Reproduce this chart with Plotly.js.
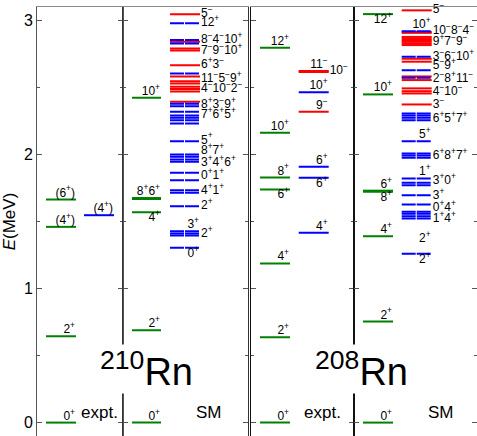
<!DOCTYPE html>
<html><head><meta charset="utf-8">
<script src="https://cdn.plot.ly/plotly-3.0.1.min.js"></script>
<style>html,body{margin:0;padding:0;background:#fff;overflow:hidden}</style>
</head><body><div id="chart" style="width:477px;height:436px"></div>
<script>
// ===== DATA (energies in MeV) =====
// 210Rn experiment
const rn210ExptE = [0, 0.644, 1.460, 1.664];
const rn210ExptLab = ['0+', '2+', '(4+)', '(6+)'];
const rn210Expt2E = [1.547];
const rn210Expt2Lab = ['(4+)'];
// 210Rn shell model, yrast (green)
const rn210SmYE = [0, 0.689, 1.569, 1.668, 1.676, 2.423];
const rn210SmYLab = ['0+', '2+', '4+', '8+6+', '10+'];
const rn210SmYLabE = [0, 0.689, 1.569, 1.676, 2.423];
// 210Rn shell model, positive parity (blue) and negative parity (red)
const rn210SmPosE = [2.978, 2.854, 2.828, 2.604, 2.378, 2.360, 2.319, 2.291, 2.274, 2.256, 2.231,
  2.099, 2.000, 1.983, 1.963, 1.946, 1.863, 1.808, 1.734, 1.714, 1.614, 1.428, 1.410, 1.396, 1.304];
const rn210SmNegE = [3.045, 2.840, 2.791, 2.776, 2.666, 2.582, 2.547, 2.530, 2.505, 2.489, 2.470, 2.393];
const rn210SmLab = ['5−', '12+', '8−4−10+', '7−9−10+', '6+3−', '11−5−9+', '4−10−2−', '8+3−9+', '7+6+5+',
  '5+', '8+7+', '3+4+6+', '0+1+', '4+1+', '2+', '3+', '2+', '0+'];
const rn210SmLabE = [3.045, 2.978, 2.853, 2.772, 2.670, 2.560, 2.490, 2.366, 2.291,
  2.104, 2.025, 1.938, 1.838, 1.726, 1.614, 1.428, 1.408, 1.304];

// 208Rn experiment
const rn208ExptE = [0, 0.637, 1.187, 1.739, 1.828, 2.162, 2.796];
const rn208ExptLab = ['0+', '2+', '4+', '6+', '8+', '10+', '12+'];
const rn208Expt2PosE = [1.416, 1.826, 1.908, 2.465];
const rn208Expt2NegE = [2.318, 2.622, 2.616];
const rn208Expt2Lab = ['4+', '6+', '6+', '9−', '10+', '11−', '10−'];
const rn208Expt2LabE = [1.416, 1.826, 1.908, 2.318, 2.465, 2.622, 2.622];
// 208Rn shell model
const rn208SmYE = [0, 0.754, 1.390, 1.722, 1.730, 2.448, 3.047];
const rn208SmYLab = ['0+', '2+', '4+', '6+', '8+', '10+', '12+'];
const rn208SmYLabE = [0, 0.754, 1.390, 1.730, 1.722, 2.448, 3.047];
const rn208SmPosE = [2.920, 2.729, 2.629, 2.572, 2.306, 2.291, 2.274, 2.256, 2.099, 2.007, 1.993, 1.975,
  1.821, 1.789, 1.771, 1.696, 1.627, 1.572, 1.557, 1.540, 1.522, 1.259];
const rn208SmNegE = [3.075, 2.914, 2.907, 2.877, 2.866, 2.854, 2.841, 2.829, 2.816, 2.714, 2.692,
  2.582, 2.555, 2.493, 2.472, 2.455, 2.373];
const rn208SmLab = ['5−', '10+', '10−8−4−', '9+7−9−', '3−6−10+', '5−9+', '2−8+11−', '4−10−', '3−', '6+5+7+',
  '5+', '6+8+7+', '1+', '3+0+', '3+', '0+4+', '1+4+', '2+', '2+'];
const rn208SmLabE = [3.075, 2.920, 2.920, 2.836, 2.724, 2.657, 2.560, 2.463, 2.366, 2.266,
  2.099, 1.987, 1.821, 1.801, 1.689, 1.602, 1.515, 1.325, 1.259];

const yTicks = [0, 1, 2, 3];
const yTickText = ['0', '1', '2', '3'];

// ===== STYLE / LAYOUT (x positions in per-subplot pixel units) =====
const GREEN = '#008000', BLUE = '#0000ff', RED = '#ff0000';
const col = {
  a_expt: [9, 39], a_expt2: [47, 77], a_smY: [9, 38], a_sm: [47, 77],
  b_expt: [8.7, 38.7], b_expt2: [47.4, 77.4], b_smY: [9, 39], b_sm: [47.7, 77.7]
};
const place = {
  a_expt: ['TL', 'TL', 'TL', 'TL'],
  a_expt2: ['TL'],
  a_smY: ['TL', 'TL', 'BL', 'TL', 'TL'],
  a_sm: ['R','R','R','R','R','R','R','R','R','R','R','R','R','R','R','TL','R','BL'],
  b_expt: ['TL','TL','TL','BL','TL','TL','TL'],
  b_expt2: ['TL','BL','TL','TL','TL','TL','R'],
  b_smY: ['TL','TL','TL','TL','BL','TL','BL'],
  b_sm: ['R','TL','R','R','R','R','R','R','R','R','TL','R','TL','R','R','R','R','TL','BL']
};

function sup(s) { return s.replace(/([+−])/g, '<sup>$1</sup>'); }

function levels(E, span, color, xa, ya, dash) {
  const x = [], y = [];
  E.forEach(e => { x.push(span[0], span[1], null); y.push(e, e, null); });
  return {type: 'scatter', mode: 'lines', x, y, xaxis: xa, yaxis: ya,
    line: {color, width: 2, dash: dash || 'solid'}, hoverinfo: 'skip', showlegend: false};
}
function labels(texts, E, places, span, xa, ya) {
  const x = [], pos = [];
  places.forEach(p => {
    if (p === 'R') { x.push(span[1] + 1); pos.push('middle right'); }
    else if (p === 'TL') { x.push(span[1] - 1); pos.push('top left'); }
    else { x.push(span[1] - 1); pos.push('bottom left'); }
  });
  return {type: 'scatter', mode: 'text', x, y: E, text: texts.map(sup), textposition: pos,
    xaxis: xa, yaxis: ya, cliponaxis: false, hoverinfo: 'skip', showlegend: false,
    textfont: {family: 'Arial, Liberation Sans, sans-serif', size: 12, color: '#000'}};
}

const BLUEDASH = '14px,1px';
const data = [
  levels(rn210ExptE, col.a_expt, GREEN, 'x', 'y'),
  levels(rn210Expt2E, col.a_expt2, BLUE, 'x', 'y'),
  labels(rn210ExptLab, rn210ExptE, place.a_expt, col.a_expt, 'x', 'y'),
  labels(rn210Expt2Lab, rn210Expt2E, place.a_expt2, col.a_expt2, 'x', 'y'),

  levels(rn210SmYE, col.a_smY, GREEN, 'x2', 'y2'),
  levels(rn210SmNegE, col.a_sm, RED, 'x2', 'y2'),
  levels(rn210SmPosE, col.a_sm, BLUE, 'x2', 'y2', BLUEDASH),
  labels(rn210SmYLab, rn210SmYLabE, place.a_smY, col.a_smY, 'x2', 'y2'),
  labels(rn210SmLab, rn210SmLabE, place.a_sm, col.a_sm, 'x2', 'y2'),

  levels(rn208ExptE, col.b_expt, GREEN, 'x3', 'y3'),
  levels(rn208Expt2NegE, col.b_expt2, RED, 'x3', 'y3'),
  levels(rn208Expt2PosE, col.b_expt2, BLUE, 'x3', 'y3'),
  labels(rn208ExptLab, rn208ExptE, place.b_expt, col.b_expt, 'x3', 'y3'),
  labels(rn208Expt2Lab, rn208Expt2LabE, place.b_expt2, col.b_expt2, 'x3', 'y3'),

  levels(rn208SmYE, col.b_smY, GREEN, 'x4', 'y4'),
  levels(rn208SmNegE, col.b_sm, RED, 'x4', 'y4'),
  levels(rn208SmPosE, col.b_sm, BLUE, 'x4', 'y4', BLUEDASH),
  labels(rn208SmYLab, rn208SmYLabE, place.b_smY, col.b_smY, 'x4', 'y4'),
  labels(rn208SmLab, rn208SmLabE, place.b_sm, col.b_sm, 'x4', 'y4')
];

const YR = [-0.1, 3.1];
const FONT = 'Arial, Liberation Sans, sans-serif';
const L = 37, W = 477, PW = W - L;
// subplot pixel edges (relative to plot-area left)
const edges = [[0, 86], [86, 210.5], [214.3, 317], [317, PW]];

function xAx(i) {
  const e = edges[i];
  return {domain: [e[0] / PW, e[1] / PW], range: [0, e[1] - e[0]], anchor: 'y' + (i ? i + 1 : ''),
    side: 'top', showline: true, linecolor: '#888', linewidth: 1, ticks: '', showticklabels: false,
    showgrid: false, zeroline: false, fixedrange: true};
}
function yAx(i, lineColor, extra) {
  return Object.assign({range: YR, anchor: 'x' + (i ? i + 1 : ''), tickmode: 'array', tickvals: yTicks,
    ticktext: yTickText, showgrid: false, zeroline: false, showticklabels: false,
    ticks: 'inside', ticklen: 5, tickcolor: '#555', showline: true, mirror: 'ticks',
    linecolor: lineColor, linewidth: 1, fixedrange: true,
    minor: {tickmode: 'linear', tick0: 0, dtick: 0.5, ticks: 'inside', ticklen: 3, tickcolor: '#555'}},
    extra || {});
}

const layout = {
  width: 477, height: 436, margin: {l: L, r: 0, t: 7, b: 0},
  paper_bgcolor: '#fff', plot_bgcolor: 'rgba(0,0,0,0)', showlegend: false,
  font: {family: FONT, color: '#000'},
  xaxis: xAx(0), xaxis2: xAx(1), xaxis3: xAx(2), xaxis4: xAx(3),
  yaxis: yAx(0, '#555', {showticklabels: true, tickfont: {size: 16, family: FONT}, automargin: false,
    title: {text: '<i>E</i>(MeV)', font: {size: 17, family: FONT}, standoff: 8}}),
  yaxis2: yAx(1, '#333'),
  yaxis3: yAx(2, '#111'),
  yaxis4: yAx(3, '#111'),
  annotations: [
    {xref: 'x', yref: 'y', x: 62, y: 0.075, text: 'expt.', showarrow: false, font: {size: 17}},
    {xref: 'x2', yref: 'y2', x: 86, y: 0.075, text: 'SM', showarrow: false, font: {size: 17}},
    {xref: 'x3', yref: 'y3', x: 71.2, y: 0.075, text: 'expt.', showarrow: false, font: {size: 17}},
    {xref: 'x4', yref: 'y4', x: 86.5, y: 0.075, text: 'SM', showarrow: false, font: {size: 17}},
    {xref: 'x2', yref: 'y2', x: 23.5, y: 0.40, text: '<sup>210</sup>Rn', showarrow: false,
      font: {size: 38}, bgcolor: '#fff', borderpad: 0},
    {xref: 'x4', yref: 'y4', x: 7.5, y: 0.40, text: '<sup>208</sup>Rn', showarrow: false,
      font: {size: 38}, bgcolor: '#fff', borderpad: 0}
  ]
};
Plotly.newPlot('chart', data, layout, {staticPlot: true, displayModeBar: false});
</script></body></html>
